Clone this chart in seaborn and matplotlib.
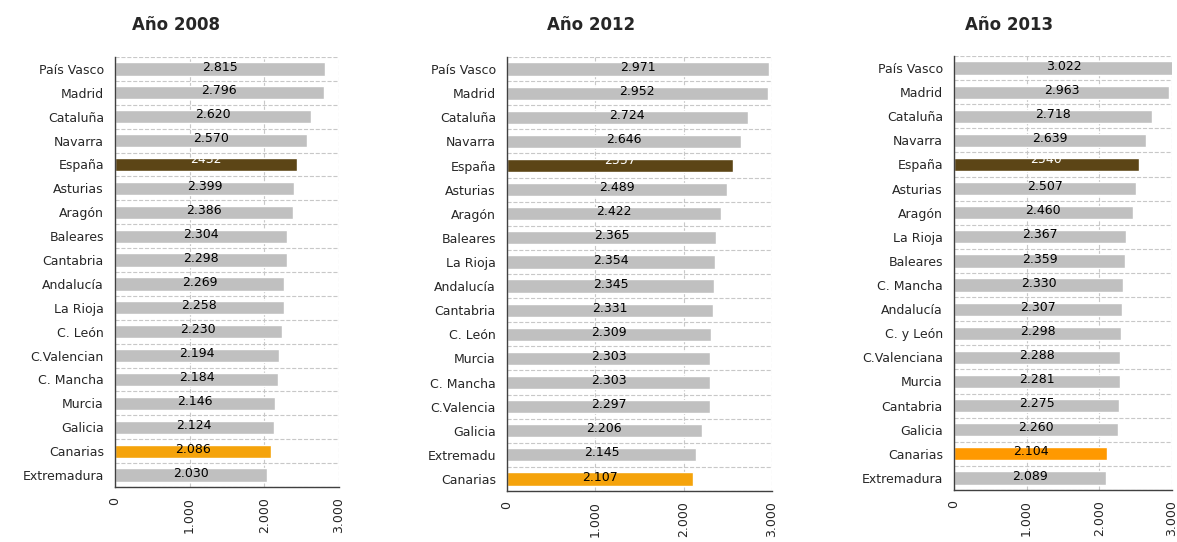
import matplotlib
matplotlib.use("Agg")
import matplotlib.pyplot as plt
import seaborn as sns
import numpy as np
from matplotlib.ticker import FuncFormatter, FixedLocator

# data
regions_2008 = ["País Vasco", "Madrid", "Cataluña", "Navarra", "España", "Asturias",
                "Aragón", "Baleares", "Cantabria", "Andalucía", "La Rioja", "C. León",
                "C.Valencian", "C. Mancha", "Murcia", "Galicia", "Canarias", "Extremadura"]
values_2008 = [2815, 2796, 2620, 2570, 2432, 2399, 2386, 2304, 2298, 2269, 2258,
               2230, 2194, 2184, 2146, 2124, 2086, 2030]

regions_2012 = ["País Vasco", "Madrid", "Cataluña", "Navarra", "España", "Asturias",
                "Aragón", "Baleares", "La Rioja", "Andalucía", "Cantabria", "C. León",
                "Murcia", "C. Mancha", "C.Valencia", "Galicia", "Extremadu", "Canarias"]
values_2012 = [2971, 2952, 2724, 2646, 2557, 2489, 2422, 2365, 2354, 2345, 2331,
               2309, 2303, 2303, 2297, 2206, 2145, 2107]

regions_2013 = ["País Vasco", "Madrid", "Cataluña", "Navarra", "España", "Asturias",
                "Aragón", "La Rioja", "Baleares", "C. Mancha", "Andalucía", "C. y León",
                "C.Valenciana", "Murcia", "Cantabria", "Galicia", "Canarias", "Extremadura"]
values_2013 = [3022, 2963, 2718, 2639, 2540, 2507, 2460, 2367, 2359, 2330, 2307,
               2298, 2288, 2281, 2275, 2260, 2104, 2089]

titles = ["Año 2008", "Año 2012", "Año 2013"]
canarias_colors = ["#F5A30B", "#F5A30B", "#FF9900"]

GRAY = "#C0C0C0"
SPAIN = "#5C4516"
FS = 9


def thousands(x, pos):
    return f"{int(x):,}".replace(",", ".")


def draw_panel(ax, regions, values, canarias_color):
    colors = []
    for r in regions:
        if r == "España":
            colors.append(SPAIN)
        elif r == "Canarias":
            colors.append(canarias_color)
        else:
            colors.append(GRAY)
    sns.barplot(x=values, y=regions, hue=regions, palette=colors, legend=False,
                orient="h", width=0.55, saturation=1, ax=ax, zorder=2)
    ax.set_xlim(0, 3000)
    ax.set_ylim(len(regions) - 0.5, -0.5)
    ax.set_xticks([0, 1000, 2000, 3000])
    ax.xaxis.set_major_formatter(FuncFormatter(thousands))
    ax.tick_params(axis="x", rotation=90, labelsize=FS, length=4, width=1, color="#404040")
    ax.yaxis.set_minor_locator(FixedLocator(np.arange(-0.5, len(regions), 1)))
    ax.tick_params(axis="y", which="major", length=0, labelsize=FS, pad=8)
    ax.tick_params(axis="y", which="minor", length=4, width=1, color="#404040")
    ax.grid(axis="x", which="major", linestyle="--", color="#C8C8C8", linewidth=0.8, zorder=0)
    ax.grid(axis="y", which="minor", linestyle="--", color="#C8C8C8", linewidth=0.8, zorder=0)
    ax.grid(axis="y", which="major", visible=False)
    ax.set_axisbelow(True)
    for s in ["top", "right"]:
        ax.spines[s].set_visible(False)
    for s in ["left", "bottom"]:
        ax.spines[s].set_color("#404040")
        ax.spines[s].set_linewidth(1)
    ax.set_xlabel("")
    ax.set_ylabel("")
    for i, (r, v) in enumerate(zip(regions, values)):
        if r == "España":
            ax.text(v / 2, i - 0.2, str(v), color="white", ha="center", va="center",
                    fontsize=FS, zorder=3)
        else:
            ax.text(v / 2, i - 0.08, thousands(v, None), color="black", ha="center",
                    va="center", fontsize=FS, zorder=3)


sns.set_style("white")
plt.rcParams["font.family"] = ["DejaVu Sans"]

fig = plt.figure(figsize=(11.77, 5.42), dpi=100)
W, H = 1177, 542
boxes = [(115, 339, 57, 487), (507, 772, 57, 491), (954, 1172, 56, 490)]
title_x = [176, 591, 1009]
all_regions = [regions_2008, regions_2012, regions_2013]
all_values = [values_2008, values_2012, values_2013]

for k in range(3):
    l, r, t, b = boxes[k]
    ax = fig.add_axes([l / W, 1 - b / H, (r - l) / W, (b - t) / H])
    draw_panel(ax, all_regions[k], all_values[k], canarias_colors[k])
    fig.text(title_x[k] / W, 1 - 25 / H, titles[k], ha="center", va="center",
             fontsize=12, fontweight="bold")

fig.savefig("out.png", dpi=100)
